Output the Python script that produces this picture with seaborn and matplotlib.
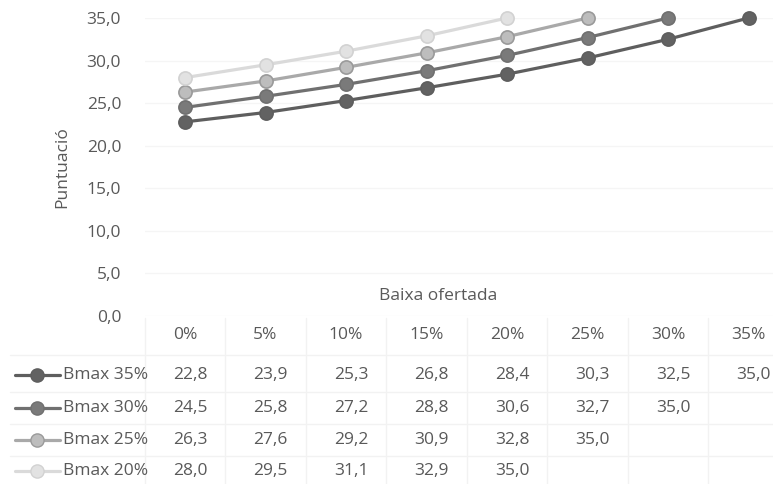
import numpy as np
import pandas as pd
import matplotlib
matplotlib.use("Agg")
import matplotlib.pyplot as plt
import seaborn as sns
from matplotlib.lines import Line2D

categories = ["0%", "5%", "10%", "15%", "20%", "25%", "30%", "35%"]
series_names = ["Bmax 35%", "Bmax 30%", "Bmax 25%", "Bmax 20%"]
bmax35 = [22.8, 23.9, 25.3, 26.8, 28.4, 30.3, 32.5, 35.0]
bmax30 = [24.5, 25.8, 27.2, 28.8, 30.6, 32.7, 35.0, np.nan]
bmax25 = [26.3, 27.6, 29.2, 30.9, 32.8, 35.0, np.nan, np.nan]
bmax20 = [28.0, 29.5, 31.1, 32.9, 35.0, np.nan, np.nan, np.nan]
y_ticks = [0, 5, 10, 15, 20, 25, 30, 35]

colors = ["#5e5e5e", "#707070", "#a9a9a9", "#dadada"]
edge_colors = ["#5e5e5e", "#707070", "#9a9a9a", "#d2d2d2"]
face_colors = ["#626262", "#7a7a7a", "#bdbdbd", "#e2e2e2"]
text_color = "#595959"

all_vals = [bmax35, bmax30, bmax25, bmax20]
rows = []
for name, vals in zip(series_names, all_vals):
    for i, v in enumerate(vals):
        rows.append({"x": i, "val": v, "serie": name})
df = pd.DataFrame(rows).dropna()

sns.set_theme(style="white")
plt.rcParams["font.family"] = ["Open Sans", "DejaVu Sans"]

W, H = 773, 484
fig = plt.figure(figsize=(W / 100, H / 100), dpi=100)
col_w = 80.5
left_px = 185 - col_w / 2
top_px, bot_px = 18, 316
ax = fig.add_axes([left_px / W, 1 - bot_px / H, 8 * col_w / W, (bot_px - top_px) / H])

for yv in y_ticks:
    ax.axhline(yv, color="#f5f5f5", lw=1, zorder=0)

sns.lineplot(data=df, x="x", y="val", hue="serie", hue_order=series_names,
             palette=dict(zip(series_names, colors)), marker="o", markersize=9.5,
             linewidth=2.3, ax=ax, legend=False, zorder=3)
for ln, ec, fc in zip(ax.lines[-4:], edge_colors, face_colors):
    ln.set_markeredgecolor(ec)
    ln.set_markerfacecolor(fc)
    ln.set_markeredgewidth(1.2)
    ln.set_clip_on(False)

ax.set_xlim(-0.5, 7.5)
ax.set_ylim(0, 35)
ax.set_yticks(y_ticks)
ax.set_yticklabels([f"{v:.1f}".replace(".", ",") for v in y_ticks], color=text_color, fontsize=12.5)
ax.tick_params(axis="y", length=0, pad=17)
ax.set_xticks([])
ax.set_xlabel("")
ax.set_ylabel("")
for s in ax.spines.values():
    s.set_visible(False)

fig.text(62 / W, 1 - 167 / H, "Puntuació", rotation=90, ha="center", va="center",
         color=text_color, fontsize=12.5)
fig.text(438 / W, 1 - 296 / H, "Baixa ofertada", ha="center", va="center",
         color=text_color, fontsize=12.5)

# data table
header_y = 335
row_ys = [375, 408, 440, 471]
grid_col = "#f2f2f2"
for k in range(9):
    xg = left_px + k * col_w
    fig.add_artist(Line2D([xg / W, xg / W], [1 - 318 / H, 1 - 484 / H], color=grid_col, lw=1))
for yg in [355, 392, 424, 456]:
    fig.add_artist(Line2D([10 / W, 1], [1 - yg / H, 1 - yg / H], color=grid_col, lw=1))

for i, c in enumerate(categories):
    fig.text((185 + i * col_w) / W, 1 - header_y / H, c, ha="center", va="center",
             color=text_color, fontsize=12.5)

for r, (name, vals) in enumerate(zip(series_names, all_vals)):
    yy = 1 - row_ys[r] / H
    fig.add_artist(Line2D([15 / W, 60 / W], [yy, yy], color=colors[r], lw=2.3))
    fig.add_artist(Line2D([37 / W], [yy], marker="o", markersize=9.5, color=colors[r],
                          markerfacecolor=face_colors[r], markeredgecolor=edge_colors[r]))
    fig.text(63 / W, yy, name, ha="left", va="center", color=text_color, fontsize=12.5)
    for i, v in enumerate(vals):
        if not np.isnan(v):
            fig.text((190 + i * col_w) / W, yy, f"{v:.1f}".replace(".", ","), ha="center",
                     va="center", color=text_color, fontsize=12.5)

fig.savefig("out.png", dpi=100, facecolor="white")
